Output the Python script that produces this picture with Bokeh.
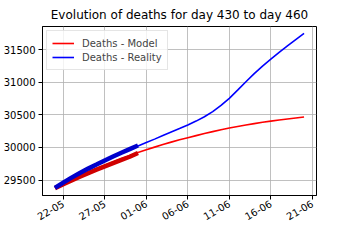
import pandas as pd
from bokeh.plotting import figure
from bokeh.models import Range1d, FixedTicker, DatetimeTickFormatter, Legend, LegendItem
from bokeh.embed import file_html
from bokeh.resources import INLINE

# ---- data ----
start_date = "2021-05-21"
n_days = 31
model_deaths = [29380, 29442, 29503, 29562, 29619, 29674, 29726, 29776, 29826, 29874,
                29922, 29965, 30005, 30045, 30082, 30117, 30150, 30182, 30213, 30243,
                30272, 30300, 30323, 30345, 30366, 30386, 30405, 30422, 30438, 30453, 30468]
reality_deaths = [29380, 29458, 29533, 29604, 29670, 29730, 29795, 29855, 29912, 29968,
                  30022, 30075, 30128, 30182, 30236, 30290, 30345, 30405, 30472, 30550,
                  30645, 30755, 30880, 31010, 31135, 31250, 31358, 31462, 31562, 31658, 31752]
# thick (fitted / observed) segments for the first 11 days
model_fit = [29375, 29435, 29494, 29551, 29606, 29659, 29710, 29760, 29809, 29857, 29915]
reality_obs = [29380, 29460, 29536, 29608, 29675, 29737, 29800, 29860, 29918, 29974, 30030]
tick_dates = ["2021-05-22", "2021-05-27", "2021-06-01", "2021-06-06",
              "2021-06-11", "2021-06-16", "2021-06-21"]
y_ticks = [29500, 30000, 30500, 31000, 31500]

dates = pd.date_range(start_date, periods=n_days, freq="D")
fit_dates = dates[:len(model_fit)]

x0 = pd.Timestamp("2021-05-19 12:00")
x1 = pd.Timestamp("2021-06-21 12:00")

FONT = "DejaVu Sans"

p = figure(width=344, height=236, output_backend="svg", toolbar_location=None,
           x_axis_type="datetime",
           x_range=Range1d(x0, x1), y_range=Range1d(29262, 31858),
           min_border_left=37, min_border_right=28, min_border_top=25, min_border_bottom=41,
           title="Evolution of deaths for day 430 to day 460")

p.title.text_font = FONT
p.title.text_font_size = "12px"
p.title.text_font_style = "normal"
p.title.align = "center"
p.title.text_color = "black"

r_model = p.line(dates, model_deaths, line_color="#ff0000", line_width=1.6)
r_real = p.line(dates, reality_deaths, line_color="#0000ff", line_width=1.6)
p.line(fit_dates, model_fit, line_color="#d00000", line_width=4.5)
p.line(fit_dates, reality_obs, line_color="#0000cc", line_width=4.5)

legend = Legend(items=[LegendItem(label="Deaths - Model", renderers=[r_model]),
                       LegendItem(label="Deaths - Reality", renderers=[r_real])],
                location="top_left")
legend.label_text_font = FONT
legend.label_text_font_size = "10px"
legend.border_line_color = "#cccccc"
legend.background_fill_alpha = 0.8
legend.margin = 4
legend.padding = 5
legend.spacing = 0
legend.glyph_width = 22
legend.glyph_height = 14
legend.label_height = 14
legend.label_standoff = 8
p.add_layout(legend)

p.xaxis.ticker = FixedTicker(ticks=[pd.Timestamp(d).value / 1e6 for d in tick_dates])
fmt = "%d-%m"
p.xaxis.formatter = DatetimeTickFormatter(days=fmt, months=fmt, years=fmt, hours=fmt,
                                          hourmin=fmt, minutes=fmt, minsec=fmt,
                                          seconds=fmt, milliseconds=fmt, microseconds=fmt)
p.xaxis.major_label_orientation = 0.52
p.yaxis.ticker = FixedTicker(ticks=y_ticks)

for ax in (p.xaxis, p.yaxis):
    ax.major_label_text_font = FONT
    ax.major_label_text_font_size = "10px"
    ax.major_label_text_color = "black"
    ax.minor_tick_line_color = None
    ax.major_tick_in = 0
    ax.major_tick_out = 4
    ax.major_tick_line_color = "black"
    ax.axis_line_color = "black"
    ax.major_label_standoff = 3

p.grid.grid_line_color = "#b0b0b0"
p.grid.grid_line_width = 0.8
p.outline_line_color = "black"
p.outline_line_alpha = 1
p.background_fill_color = "white"
p.border_fill_color = "white"

open("out.html", "w").write(file_html(p, INLINE))
